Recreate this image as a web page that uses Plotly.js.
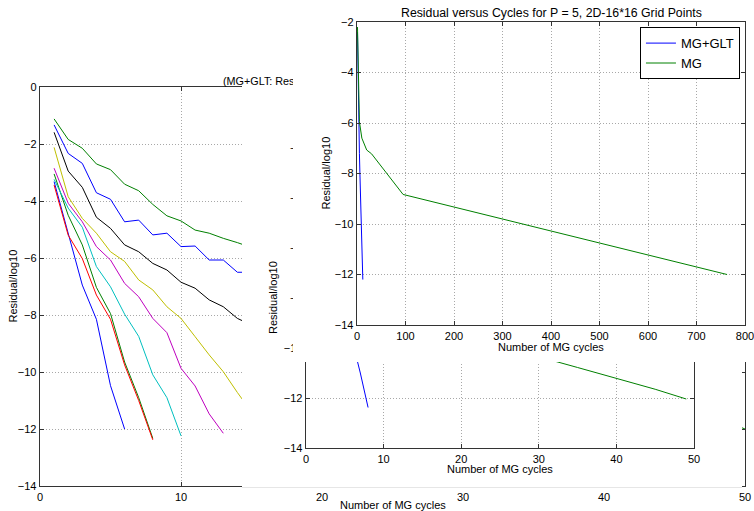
<!DOCTYPE html>
<html>
<head>
<meta charset="utf-8">
<script src="https://cdn.plot.ly/plotly-3.0.1.min.js"></script>
<style>
  html, body { margin: 0; padding: 0; background: #fff; overflow: hidden; }
  #figA { position: absolute; left: 0; top: 0; width: 754px; height: 511px; z-index: 1; }
  #figB { position: absolute; left: 242px; top: 86px; width: 500px; height: 401px; z-index: 2; border-bottom: 1px solid #e6e6e6; }
  #figC { position: absolute; left: 293px; top: 0px; width: 461px; height: 362px; z-index: 3; }
</style>
</head>
<body>
<div id="figA"></div>
<div id="figB"></div>
<div id="figC"></div>
<script>
// ---------- Left (back) figure: residual vs cycles for several P ----------
const leftX1 = [1, 2, 3, 4, 5, 6];
const leftY1 = [-3.32, -5.15, -6.95, -8.15, -10.48, -12.0];
const leftX2 = [1, 2, 3, 4, 5, 6, 7, 8];
const leftY2 = [-3.05, -4.5, -5.54, -7.03, -7.95, -9.65, -10.9, -12.33];
const leftX3 = [1, 2, 3, 4, 5, 6, 7, 8];
const leftY3 = [-3.44, -5.2, -6.02, -7.3, -8.15, -9.75, -11.0, -12.38];
const leftX4 = [1, 2, 3, 4, 5, 6, 7, 8, 9, 10];
const leftY4 = [-3.24, -4.25, -4.92, -6.3, -7.01, -7.97, -8.75, -10.1, -10.9, -12.24];
const leftX5 = [1, 2, 3, 4, 5, 6, 7, 8, 9, 10, 11, 12, 13];
const leftY5 = [-2.85, -4.08, -4.73, -5.6, -6.07, -6.89, -7.36, -8.12, -8.62, -9.87, -10.49, -11.47, -12.15];
const leftX6 = [1, 2, 3, 4, 5, 6, 7, 8, 9, 10, 11, 12, 13, 14, 15];
const leftY6 = [-2.12, -3.85, -4.61, -5.13, -5.78, -6.12, -6.77, -7.12, -7.71, -8.12, -8.76, -9.4, -9.99, -10.72, -11.4];
const leftX7 = [1, 2, 3, 4, 5, 6, 7, 8, 9, 10, 11, 12, 13, 14, 15];
const leftY7 = [-1.59, -2.95, -3.52, -4.57, -4.96, -5.54, -5.78, -6.19, -6.42, -6.85, -7.06, -7.47, -7.71, -8.12, -8.35];
const leftX8 = [1, 2, 3, 4, 5, 6, 7, 8, 9, 10, 11, 12, 13, 14, 15];
const leftY8 = [-1.33, -2.33, -2.68, -3.71, -3.94, -4.73, -4.67, -5.19, -5.13, -5.6, -5.58, -6.07, -6.07, -6.5, -6.5];
const leftX9 = [1, 2, 3, 4, 5, 6, 7, 8, 9, 10, 11, 12, 13, 14, 20, 25, 30, 35, 40, 45, 50];
const leftY9 = [-1.12, -1.84, -2.15, -2.7, -2.9, -3.41, -3.64, -4.12, -4.52, -4.7, -5.02, -5.13, -5.31, -5.46, -6.5, -7.4, -8.3, -9.2, -10.1, -11.0, -12.0];
const leftColors = ['#0000ff', '#008000', '#ff0000', '#00bfbf', '#bf00bf', '#bfbf00', '#000000', '#0000ff', '#008000'];
const leftTitle = '(MG+GLT: Residual versus Cycles for Different P)';

// ---------- Middle figure ----------
const midGltX = [1, 2, 3, 4, 5, 6, 7, 8];
const midGltY = [-3.44, -5.2, -6.02, -7.3, -8.15, -9.75, -11.0, -12.38];
const midMgX = [1, 2, 3, 4, 5, 6, 8, 10, 15, 20, 25, 30, 35, 40, 45, 49];
const midMgY = [-2.2, -3.6, -4.6, -5.4, -5.95, -6.3, -6.7, -7.0, -7.7, -8.4, -9.4, -10.35, -10.78, -11.21, -11.65, -12.04];

// ---------- Front figure: P = 5 ----------
const frontTitle = 'Residual versus Cycles for P = 5, 2D-16*16 Grid Points';
const frontGltX = [1, 2, 3, 4, 5, 6, 7, 8, 9, 10, 11, 12];
const frontGltY = [-2.4, -4.1, -5.3, -6.3, -7.2, -8.0, -8.8, -9.5, -10.2, -10.9, -11.6, -12.2];
const frontMgX = [1, 2, 3, 4, 5, 10, 20, 30, 95, 763];
const frontMgY = [-2.2, -3.6, -4.6, -5.4, -5.95, -6.6, -7.07, -7.22, -8.83, -12.0];
const seriesNames = ['MG+GLT', 'MG'];

const FONT = 'Liberation Sans, Arial, Helvetica, sans-serif';

function axis(range, dtick) {
  return {
    range: range, dtick: dtick, tick0: 0, autorange: false,
    showgrid: true, gridcolor: '#a8a8a8', griddash: '1px,2px', gridwidth: 1,
    zeroline: false, showline: true, linecolor: '#333', linewidth: 1.3,
    mirror: 'ticks', ticks: 'inside', ticklen: 4, tickcolor: '#333',
    ticklabeloverflow: 'allow',
    tickfont: {family: FONT, size: 11, color: '#000'}, fixedrange: true
  };
}
function ann(text, x, y, opts) {
  return Object.assign({text: text, x: x, y: y, xref: 'paper', yref: 'paper',
    showarrow: false, font: {family: FONT, size: 11, color: '#000'}}, opts);
}
const cfg = {displayModeBar: false, staticPlot: true};

// Left figure
const lx = [leftX1, leftX2, leftX3, leftX4, leftX5, leftX6, leftX7, leftX8, leftX9];
const ly = [leftY1, leftY2, leftY3, leftY4, leftY5, leftY6, leftY7, leftY8, leftY9];
const tracesA = lx.map((xs, i) => ({x: xs, y: ly[i], mode: 'lines', type: 'scatter',
  line: {color: leftColors[i], width: 1}, showlegend: false}));
Plotly.newPlot('figA', tracesA, {
  width: 754, height: 511, margin: {l: 40, r: 9, t: 87, b: 25},
  paper_bgcolor: '#fff', plot_bgcolor: '#fff', showlegend: false,
  xaxis: axis([0, 50], 10), yaxis: axis([-14, 0], 2),
  annotations: [
    ann(leftTitle, 0.257, 1, {xanchor: 'left', yanchor: 'middle', yshift: 6, font: {family: FONT, size: 10.8, color: '#000'}}),
    ann('Number of MG cycles', 0.5, 0, {xanchor: 'center', yanchor: 'middle', yshift: -19}),
    ann('Residual/log10', 0, 0.5, {xanchor: 'center', yanchor: 'middle', xshift: -28, textangle: -90})
  ]
}, cfg);

// Middle figure
Plotly.newPlot('figB', [
  {x: midGltX, y: midGltY, mode: 'lines', type: 'scatter', name: seriesNames[0], line: {color: '#0000ff', width: 1}},
  {x: midMgX, y: midMgY, mode: 'lines', type: 'scatter', name: seriesNames[1], line: {color: '#008000', width: 1}}
], {
  width: 500, height: 401, margin: {l: 64, r: 48, t: 62, b: 39},
  paper_bgcolor: '#fff', plot_bgcolor: '#fff', showlegend: false,
  xaxis: axis([0, 50], 10), yaxis: axis([-14, -2], 2),
  annotations: [
    ann('Number of MG cycles', 0.5, 0, {xanchor: 'center', yanchor: 'middle', yshift: -21}),
    ann('Residual/log10', 0, 0.5, {xanchor: 'center', yanchor: 'middle', xshift: -33, textangle: -90})
  ]
}, cfg);

// Front figure
Plotly.newPlot('figC', [
  {x: frontGltX, y: frontGltY, mode: 'lines', type: 'scatter', name: seriesNames[0], line: {color: '#0000ff', width: 1}},
  {x: frontMgX, y: frontMgY, mode: 'lines', type: 'scatter', name: seriesNames[1], line: {color: '#008000', width: 1}}
], {
  width: 461, height: 362, margin: {l: 63.7, r: 8.7, t: 22.3, b: 37},
  paper_bgcolor: '#fff', plot_bgcolor: '#fff', showlegend: true,
  legend: {x: 0.987, y: 0.983, xanchor: 'right', yanchor: 'top', bgcolor: '#fff',
    bordercolor: '#000', borderwidth: 1, font: {family: FONT, size: 13, color: '#000'}},
  xaxis: axis([0, 800], 100), yaxis: axis([-14, -2], 2),
  annotations: [
    ann(frontTitle, 0.5, 1, {xanchor: 'center', yanchor: 'middle', yshift: 9.5, font: {family: FONT, size: 12.3, color: '#000'}}),
    ann('Number of MG cycles', 0.5, 0, {xanchor: 'center', yanchor: 'middle', yshift: -22}),
    ann('Residual/log10', 0, 0.5, {xanchor: 'center', yanchor: 'middle', xshift: -32, textangle: -90})
  ]
}, cfg);
</script>
</body>
</html>
